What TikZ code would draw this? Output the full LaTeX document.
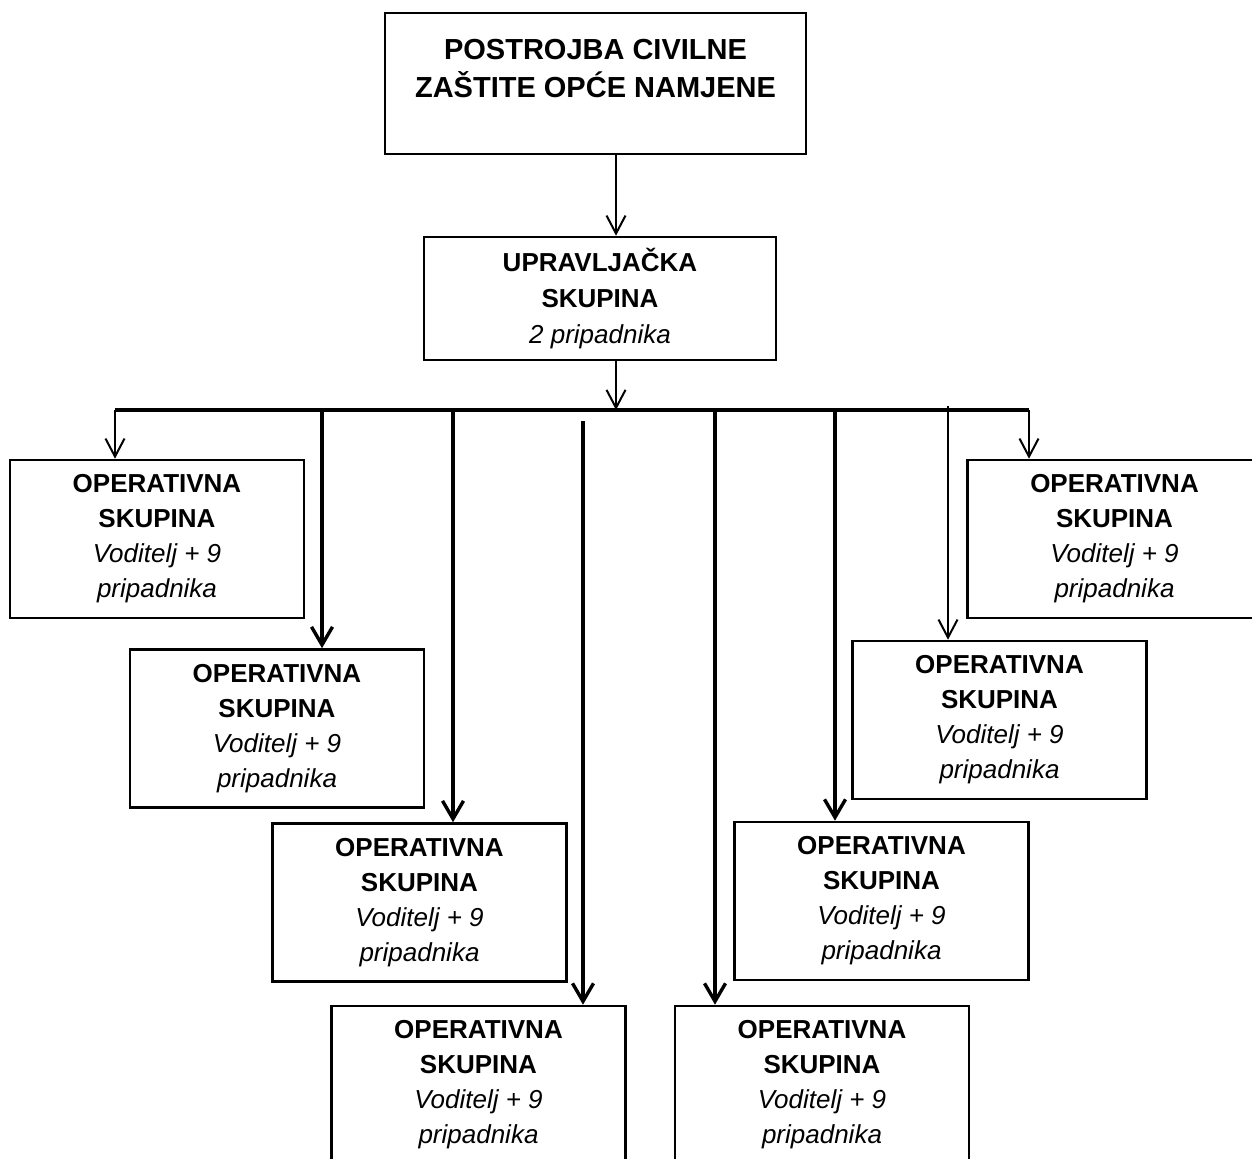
\documentclass[tikz,border=0pt]{standalone}
\usepackage{fontspec}
\setmainfont{Liberation Sans}
\usetikzlibrary{arrows.meta}
\usetikzlibrary{positioning}
\usetikzlibrary{calc}
\tikzstyle{headbox}=[draw,line width=1.3pt,minimum width=210.5pt,minimum height=70.5pt,inner sep=0pt]
\tikzstyle{headtext}=[align=center,inner sep=0pt,font=\fontsize{14.5}{19}\selectfont\bfseries]
\tikzstyle{uprbox}=[draw,line width=1.3pt,minimum width=176pt,minimum height=61.5pt,inner sep=0pt,align=center,font=\fontsize{13}{17.8}\selectfont]
\tikzstyle{opbox}=[draw,line width=1.3pt,minimum width=147pt,minimum height=79pt,inner sep=0pt,align=center,font=\fontsize{13}{17.5}\selectfont]
\tikzstyle{thinedge} = [draw,line width=1pt,-{Straight Barb[length=9pt,width=9.5pt]}]
\tikzstyle{thickedge} = [draw,line width=1.7pt,-{Straight Barb[length=9pt,width=10.5pt]}]
\tikzstyle{bus} = [draw,line width=1.7pt]
\newcommand{\opgroup}{\textbf{OPERATIVNA}\\\textbf{SKUPINA}\\\textit{Voditelj + 9}\\\textit{pripadnika}}

\begin{document}
\begin{tikzpicture}[x=0.5pt,y=-0.5pt]
    \useasboundingbox (0,0) rectangle (1252,1158);
    \clip (0,0) rectangle (1252,1158);

    \node[headbox] (civil) at (595.5,83.5) {};
    \node[headtext] (civiltext) at (595.5,69) {POSTROJBA CIVILNE\\ZAŠTITE OPĆE NAMJENE};
    \node[uprbox] (upr) at (600,298.5) {\textbf{UPRAVLJAČKA}\\\textbf{SKUPINA}\\\textit{2 pripadnika}};

    \foreach \pos/\name in {{(157,539)/op1}, {(277,728.5)/op2}, {(419.5,902.5)/op3}, {(478.5,1085)/op4},
                            {(822,1085)/op5}, {(881.5,901)/op6}, {(999.5,720)/op7}, {(1114.5,539)/op8}}
        \node[opbox] (\name) at \pos {\opgroup};

    \coordinate (hub) at (616,410);
    \coordinate (busleft) at (115,410);
    \coordinate (busright) at (1029,410);

    \path[thinedge] ([xshift=10.25pt]civil.south) -- ([xshift=8pt]upr.north);
    \path[thinedge] ([xshift=8pt]upr.south) -- (hub);
    \path[bus] (busleft) -- (busright);

    \foreach \name/\x/\y/\kind in {op1/115/410/thinedge, op2/322/410/thickedge, op3/453/410/thickedge, op4/583/421/thickedge,
                                   op5/715/410/thickedge, op6/835/410/thickedge, op7/948/406/thinedge, op8/1029/410/thinedge}
    {
        \coordinate (\name-drop) at (\x,\y);
        \path[\kind] (\name-drop) -- (\name-drop |- \name.north);
    }
\end{tikzpicture}
\end{document}
